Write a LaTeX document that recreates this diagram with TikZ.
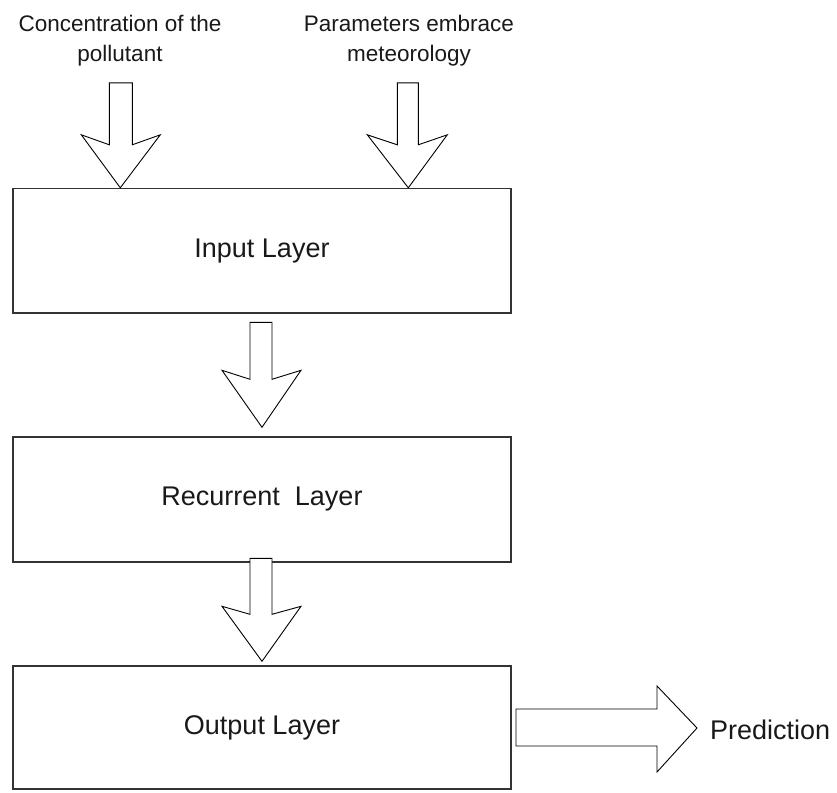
\documentclass[tikz,border=0pt]{standalone}
\usepackage{fontspec}
\setmainfont{Liberation Sans}
\usetikzlibrary{calc}
\begin{document}
\begin{tikzpicture}[x=1pt,y=-1pt,
  layerbox/.style={draw=black!80, line width=1.4pt, minimum width=498pt, inner sep=0pt,
    font=\fontsize{27}{30}\selectfont, text=black!90},
  fatarrow/.style={draw=black, line width=0.9pt, fill=white, line join=miter},
  toplabel/.style={font=\fontsize{22.5}{30}\selectfont, align=center, inner sep=0pt, text=black!90},
  sidelabel/.style={font=\fontsize{27}{30}\selectfont, inner sep=0pt, text=black!90}]
\useasboundingbox (0,0) rectangle (837,792);
% layers
\node[layerbox, minimum height=124.5pt] (inp) at (262,250.75) {Input Layer};
\node[layerbox, minimum height=125pt] (rec) at (262,499.5) {Recurrent\ \ Layer};
\node[layerbox, minimum height=123pt] (out) at (262,727.5) {Output Layer};
% labels
\node[toplabel, anchor=base] (lblA) at (120,62) {Concentration of the\\pollutant};
\node[toplabel, anchor=base] (lblB) at (409,62) {Parameters embrace\\meteorology};
\node[sidelabel, anchor=base west] (pred) at (710,739) {Prediction};
% arrow tips
\coordinate (tA) at ($(inp.north west)+(108,0)$);
\coordinate (tB) at ($(inp.north west)+(396,0)$);
\coordinate (tC) at ($(rec.north)+(0,-9)$);
\coordinate (tD) at ($(out.north)+(0,-4)$);
\coordinate (tE) at ($(pred.base west)+(-13,-11)$);
% arrows
\draw[fatarrow] (tA) -- ++(-39,-53) -- ++(28,10) -- ++(0,-62) -- ++(23,0) -- ++(0,62) -- ++(28,-10) -- cycle;
\draw[fatarrow] (tB) -- ++(-41,-53) -- ++(30,10) -- ++(0,-62) -- ++(21,0) -- ++(0,62) -- ++(29,-10) -- cycle;
\draw[fatarrow] (tC) -- ++(-40,-57) -- ++(28,9) -- ++(0,-57) -- ++(22,0) -- ++(0,57) -- ++(29,-9) -- cycle;
\draw[fatarrow] (tD) -- ++(-40,-55) -- ++(28,8) -- ++(0,-56) -- ++(22,0) -- ++(0,56) -- ++(29,-8) -- cycle;
\draw[fatarrow] (tE) -- ++(-40,-42) -- ++(0,23) -- ++(-141,0) -- ++(0,37) -- ++(141,0) -- ++(0,26) -- cycle;
\end{tikzpicture}
\end{document}
